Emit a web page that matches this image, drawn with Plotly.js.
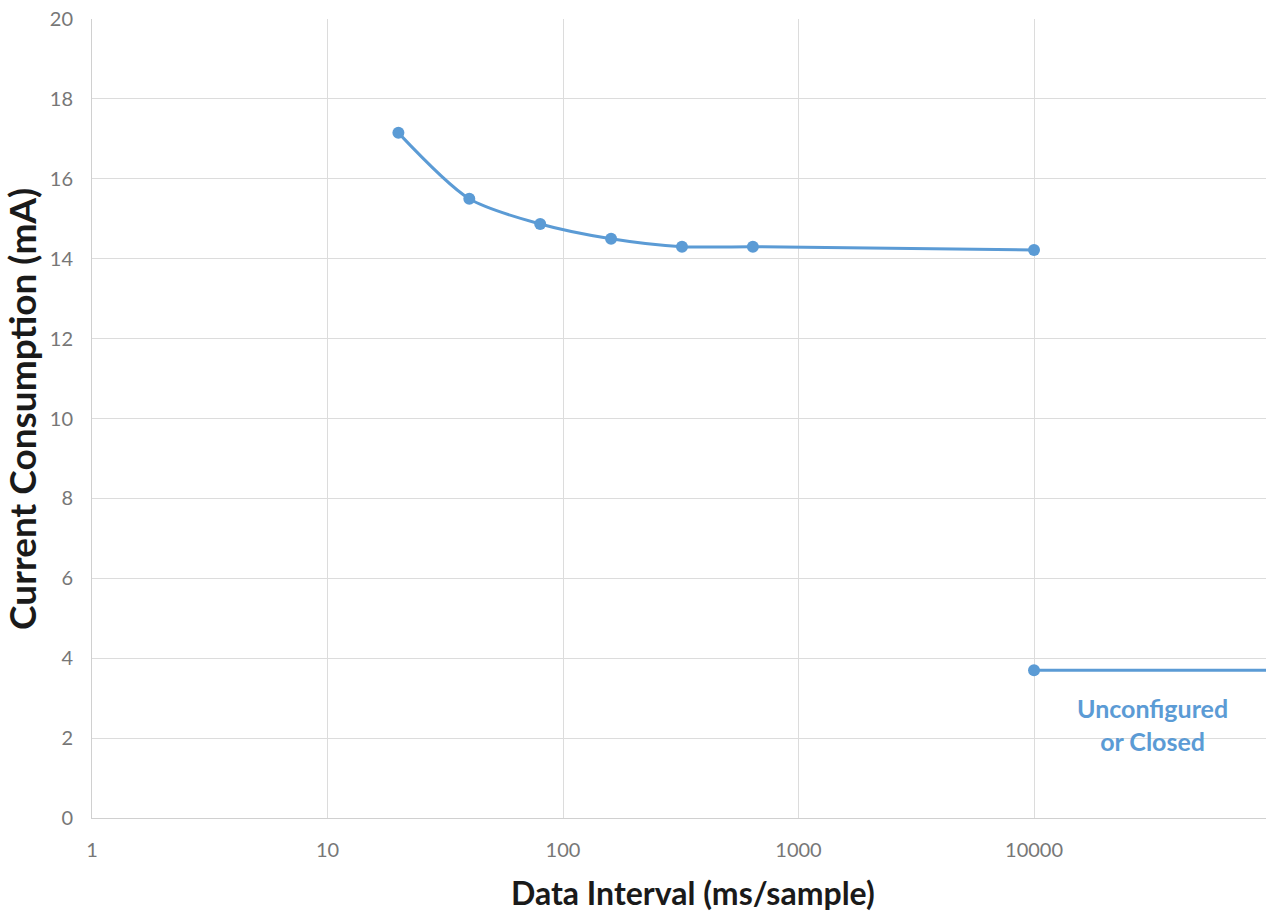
<!DOCTYPE html>
<html>
<head>
<meta charset="utf-8">
<script src="https://cdn.plot.ly/plotly-3.0.1.min.js"></script>
<style>html,body{margin:0;padding:0;background:#fff;}#chart{width:1266px;height:911px;}</style>
</head>
<body>
<div id="chart"></div>
<script>
const intervalMs = [20, 40, 80, 160, 320, 640, 10000];
const currentMa = [17.15, 15.5, 14.87, 14.5, 14.3, 14.3, 14.22];
const idleInterval = [10000, 100000];
const idleCurrent = [3.7, 3.7];
const xTickVals = [1, 10, 100, 1000, 10000];
const xTickText = ["1", "10", "100", "1000", "10000"];
const xTitle = "Data Interval (ms/sample)";
const yTitle = "Current Consumption (mA)";
const noteText = "Unconfigured<br>or Closed";
const blue = "#5b9bd5";

const traces = [
  {x: intervalMs, y: currentMa, type: "scatter", mode: "lines",
   line: {color: blue, width: 3, shape: "spline", smoothing: 0.8}, hoverinfo: "skip"},
  {x: intervalMs, y: currentMa, type: "scatter", mode: "markers",
   marker: {color: blue, size: 12}, cliponaxis: false},
  {x: idleInterval, y: idleCurrent, type: "scatter", mode: "lines",
   line: {color: blue, width: 3}, hoverinfo: "skip"},
  {x: [idleInterval[0]], y: [idleCurrent[0]], type: "scatter", mode: "markers",
   marker: {color: blue, size: 12}, cliponaxis: false}
];

const titleFont = {family: "Lato, sans-serif", color: "#1a1a1a", weight: "bold"};

const layout = {
  width: 1266, height: 911,
  margin: {l: 92, r: 0, t: 19, b: 93},
  paper_bgcolor: "#fff", plot_bgcolor: "#fff",
  showlegend: false,
  font: {family: "Lato, 'Open Sans', sans-serif", color: "#666"},
  xaxis: {
    type: "log", range: [0, 4.985],
    tickvals: xTickVals, ticktext: xTickText,
    tickfont: {size: 20, color: "#777"},
    ticklabelstandoff: 14,
    showgrid: true, gridcolor: "#dcdcdc", gridwidth: 1,
    showline: true, linecolor: "#d0d0d0", linewidth: 1,
    zeroline: false, ticks: ""
  },
  yaxis: {
    range: [0, 20], dtick: 2, tick0: 0,
    tickfont: {size: 20, color: "#777"},
    ticklabelstandoff: 14,
    showgrid: true, gridcolor: "#dcdcdc", gridwidth: 1,
    showline: true, linecolor: "#d0d0d0", linewidth: 1,
    zeroline: false, ticks: ""
  },
  annotations: [
    {x: 4.505, y: 2.33, xref: "x", yref: "y",
     text: "<b>" + noteText + "</b>", showarrow: false,
     font: {size: 25, color: blue, family: "Lato, sans-serif"}, align: "center"},
    {x: 0.512, y: 0, xref: "paper", yref: "paper", yshift: -74,
     xanchor: "center", yanchor: "middle", showarrow: false,
     text: "<b>" + xTitle + "</b>", font: Object.assign({size: 32}, titleFont)},
    {x: 0, y: 0.512, xref: "paper", yref: "paper", xshift: -70,
     xanchor: "center", yanchor: "middle", textangle: -90, showarrow: false,
     text: "<b>" + yTitle + "</b>", font: Object.assign({size: 37}, titleFont)}
  ]
};

Plotly.newPlot("chart", traces, layout, {displayModeBar: false, staticPlot: true});
</script>
</body>
</html>
